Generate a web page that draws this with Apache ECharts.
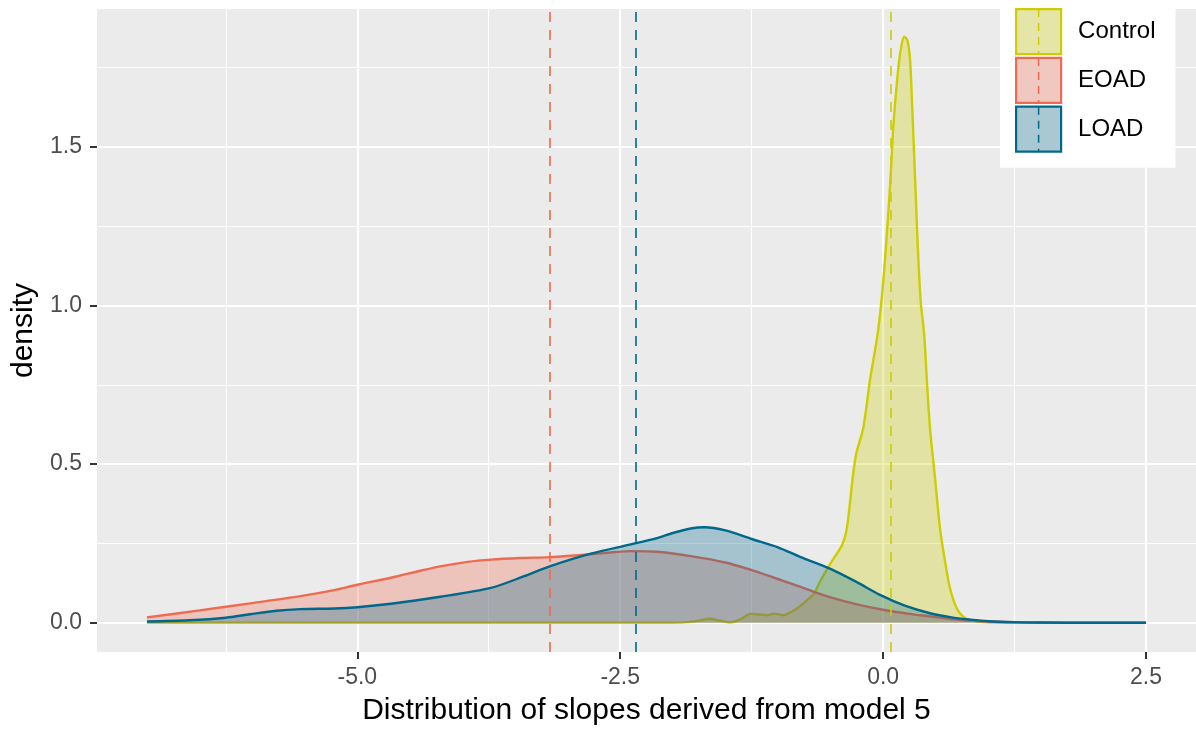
<!DOCTYPE html>
<html>
<head>
<meta charset="utf-8">
<script src="https://cdn.jsdelivr.net/npm/echarts@6/dist/echarts.min.js"></script>
<style>
html,body{margin:0;padding:0;background:#fff;}
#chart{width:1196px;height:731px;}
</style>
</head>
<body>
<div id="chart"></div>
<script>
// ---- data ----
const groupNames = ['Control', 'EOAD', 'LOAD'];
const lineColors = ['#CDCD00', '#EE6A50', '#00688B'];
const fillColors = ['rgba(205,205,0,0.3)', 'rgba(238,106,80,0.3)', 'rgba(0,104,139,0.3)'];
const keyFillColors = ['rgb(229,229,168)', 'rgb(240,200,192)', 'rgb(170,200,210)'];
const groupMeans = [0.075, -3.17, -2.35];

const controlDensity = [
  [-7,0],[-2.0,0],[-1.85,0.002],[-1.75,0.007],[-1.65,0.013],[-1.55,0.007],[-1.45,0.001],
  [-1.35,0.012],[-1.26,0.028],[-1.18,0.026],[-1.1,0.024],[-1.04,0.029],[-0.95,0.024],
  [-0.87,0.035],[-0.8,0.05],[-0.72,0.072],[-0.66,0.09],[-0.6,0.13],[-0.55,0.16],
  [-0.47,0.203],[-0.39,0.245],[-0.345,0.297],[-0.29,0.455],[-0.256,0.533],[-0.19,0.612],
  [-0.123,0.769],[-0.05,0.915],[0.003,1.083],[0.06,1.345],[0.08,1.46],[0.098,1.57],
  [0.145,1.75],[0.175,1.82],[0.2,1.847],[0.231,1.835],[0.256,1.774],[0.275,1.638],
  [0.294,1.481],[0.313,1.324],[0.332,1.167],[0.358,1.01],[0.39,0.91],[0.415,0.769],
  [0.446,0.612],[0.494,0.455],[0.541,0.297],[0.589,0.193],[0.636,0.109],[0.70,0.046],
  [0.78,0.015],[0.9,0.004],[1.05,0.001],[1.3,0],[2.5,0]
];
const eoadDensity = [
  [-7,0.017],[-6.5,0.039],[-6.0,0.062],[-5.54,0.084],[-5.22,0.103],[-5.0,0.12],
  [-4.68,0.142],[-4.4,0.164],[-4.21,0.178],[-3.95,0.192],[-3.73,0.199],[-3.45,0.204],
  [-3.17,0.207],[-2.78,0.216],[-2.55,0.223],[-2.4,0.226],[-2.15,0.224],[-1.83,0.21],
  [-1.5,0.19],[-1.25,0.166],[-1.0,0.138],[-0.79,0.114],[-0.63,0.094],[-0.5,0.08],
  [-0.25,0.058],[0,0.041],[0.25,0.028],[0.45,0.02],[0.64,0.012],[0.83,0.007],[1.0,0.004],
  [1.25,0.001],[1.5,0],[2.5,0]
];
const loadDensity = [
  [-7,0.004],[-6.6,0.008],[-6.25,0.016],[-6.02,0.027],[-5.77,0.038],[-5.54,0.043],
  [-5.22,0.045],[-5.0,0.049],[-4.68,0.06],[-4.21,0.082],[-3.73,0.11],[-3.42,0.146],
  [-3.17,0.178],[-2.78,0.218],[-2.4,0.247],[-2.15,0.267],[-2.0,0.283],[-1.83,0.297],
  [-1.7,0.301],[-1.5,0.291],[-1.25,0.264],[-1.0,0.238],[-0.79,0.208],[-0.5,0.17],
  [-0.25,0.128],[-0.03,0.088],[0.2,0.055],[0.446,0.03],[0.65,0.017],[0.83,0.01],
  [1.0,0.005],[1.25,0.002],[1.5,0.001],[2.0,0],[2.5,0]
];
const densities = [controlDensity, eoadDensity, loadDensity];
const xTicks = [-5, -2.5, 0, 2.5];
const yTicks = [0, 0.5, 1, 1.5];
const xTitle = 'Distribution of slopes derived from model 5';
const yTitle = 'density';

// ---- chart ----
const FONT = '"Liberation Sans", Arial, Helvetica, sans-serif';
const chart = echarts.init(document.getElementById('chart'), null, {renderer: 'canvas'});

const series = groupNames.map((name, i) => ({
  name: name,
  type: 'line',
  data: densities[i],
  smooth: 0.3,
  showSymbol: false,
  symbol: 'none',
  lineStyle: {color: lineColors[i], width: 2.4},
  itemStyle: {color: lineColors[i]},
  areaStyle: {color: fillColors[i], opacity: 1},
  z: 2 + i,
  silent: true,
  markLine: {
    silent: true,
    symbol: ['none', 'none'],
    label: {show: false},
    lineStyle: {color: lineColors[i], type: [10, 8], width: 1.6},
    data: [{xAxis: groupMeans[i]}]
  }
}));

// dashed line drawn through each legend key (as ggplot does for geom_vline)
const keySize = 45, keyBorder = 2.2, keyGap = 1.6, legendTop = 8, legendLeft = 1000, legendPadL = 15;
const keyPitch = keySize + keyBorder + keyGap;
const keyX = legendLeft + legendPadL + keyBorder / 2 + keySize / 2;
const legendDash = groupNames.map((n, i) => ({
  type: 'line',
  z: 200,
  silent: true,
  shape: {
    x1: keyX, y1: legendTop + keyBorder / 2 + i * keyPitch,
    x2: keyX, y2: legendTop + keyBorder / 2 + i * keyPitch + keySize
  },
  style: {stroke: lineColors[i], lineWidth: 1.5, lineDash: [8, 6]}
}));

chart.setOption({
  animation: false,
  backgroundColor: '#ffffff',
  textStyle: {fontFamily: FONT},
  grid: {
    left: 97, right: 0, top: 9, bottom: 77,
    show: true, backgroundColor: '#EBEBEB', borderWidth: 0,
    containLabel: false
  },
  legend: {
    orient: 'vertical',
    left: legendLeft, top: 0,
    backgroundColor: '#ffffff',
    padding: [legendTop, 20, 15, legendPadL],
    itemWidth: keySize, itemHeight: keySize, itemGap: keyGap,
    icon: 'rect',
    selectedMode: false,
    textStyle: {fontSize: 24, color: '#000000', fontFamily: FONT, padding: [0, 0, 0, 12]},
    data: groupNames.map((n, i) => ({
      name: n,
      icon: 'rect',
      itemStyle: {color: keyFillColors[i], borderColor: lineColors[i], borderWidth: keyBorder}
    }))
  },
  xAxis: {
    type: 'value',
    min: -7.475, max: 2.975,
    minInterval: 2.5, maxInterval: 2.5,
    name: xTitle,
    nameLocation: 'middle',
    nameGap: 44,
    nameTextStyle: {fontSize: 30, color: '#000000', fontFamily: FONT},
    axisLine: {show: false, onZero: false},
    axisTick: {show: true, length: 7, lineStyle: {color: '#333333', width: 2}, customValues: xTicks},
    axisLabel: {
      color: '#4D4D4D', fontSize: 23, margin: 14, fontFamily: FONT,
      customValues: xTicks,
      formatter: v => v.toFixed(1)
    },
    splitLine: {show: true, lineStyle: {color: '#FFFFFF', width: 2.2}},
    minorTick: {show: false, splitNumber: 2},
    minorSplitLine: {show: true, lineStyle: {color: '#FFFFFF', width: 1.1}}
  },
  yAxis: {
    type: 'value',
    min: -0.092, max: 1.934,
    minInterval: 0.5, maxInterval: 0.5,
    name: yTitle,
    nameLocation: 'middle',
    nameGap: 53,
    nameRotate: 90,
    nameTextStyle: {fontSize: 30, color: '#000000', fontFamily: FONT},
    axisLine: {show: false, onZero: false},
    axisTick: {show: true, length: 7, lineStyle: {color: '#333333', width: 2}, customValues: yTicks},
    axisLabel: {
      color: '#4D4D4D', fontSize: 23, margin: 15, fontFamily: FONT,
      customValues: yTicks,
      formatter: v => v.toFixed(1)
    },
    splitLine: {show: true, lineStyle: {color: '#FFFFFF', width: 2.2}},
    minorTick: {show: false, splitNumber: 2},
    minorSplitLine: {show: true, lineStyle: {color: '#FFFFFF', width: 1.1}}
  },
  graphic: legendDash,
  series: series
});
</script>
</body>
</html>
